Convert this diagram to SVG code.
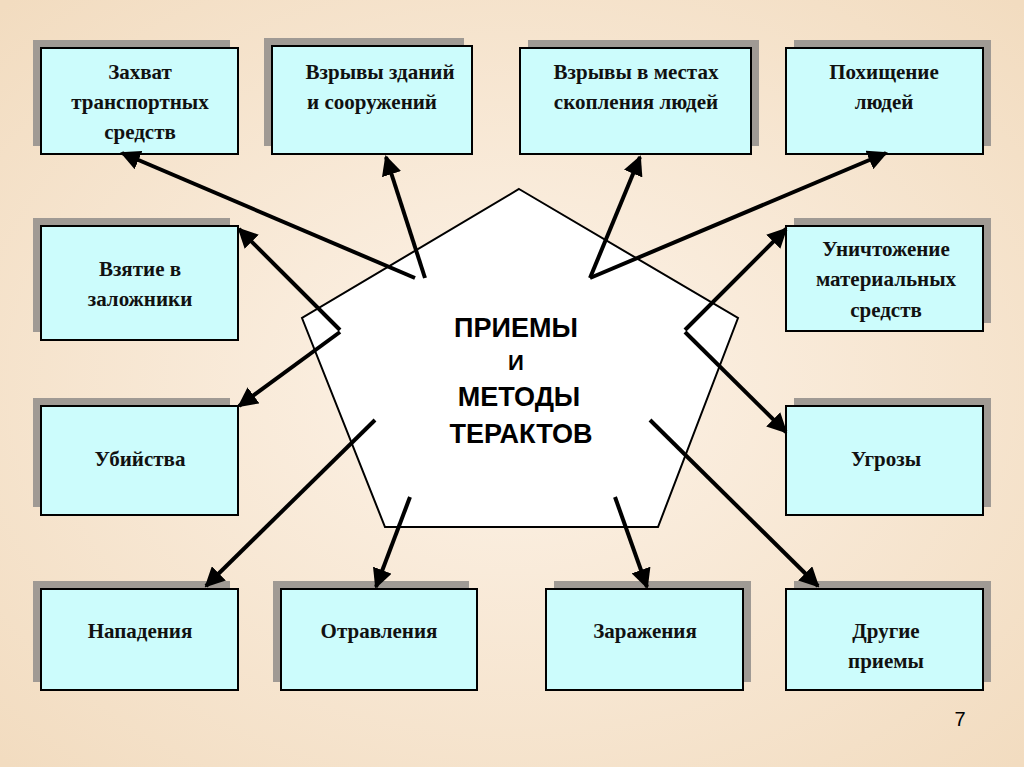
<svg xmlns="http://www.w3.org/2000/svg" width="1024" height="767" viewBox="0 0 1024 767">
<defs>
<radialGradient id="bg" cx="50%" cy="50%" r="70%"><stop offset="0" stop-color="#fdf3e8"/><stop offset="1" stop-color="#f2dcc0"/></radialGradient>
<marker id="ah" viewBox="0 0 10 10" refX="9" refY="5" markerWidth="5" markerHeight="5" orient="auto"><path d="M0,0 L10,5 L0,10 z" fill="#000"/></marker>
<style>
.sh{fill:#a09a94}
.bx{fill:#ccfcfc;stroke:#000;stroke-width:2}
.t{font-family:"Liberation Serif",serif;font-weight:bold;font-size:21px;fill:#111;text-anchor:middle}
.c{stroke:#000;stroke-width:4;fill:none;marker-end:url(#ah)}
</style>
</defs>
<rect width="1024" height="767" fill="url(#bg)"/>
<g id="center"><polygon points="519,189 738,318 658,527 385,527 302,318" fill="#fff" stroke="#000" stroke-width="2"/>
<text x="516" y="337" font-family="Liberation Sans,sans-serif" font-weight="bold" font-size="27" text-anchor="middle">ПРИЕМЫ</text>
<text x="516" y="370" font-family="Liberation Sans,sans-serif" font-weight="bold" font-size="22" text-anchor="middle">И</text>
<text x="519" y="406" font-family="Liberation Sans,sans-serif" font-weight="bold" font-size="27" text-anchor="middle">МЕТОДЫ</text>
<text x="521" y="443" font-family="Liberation Sans,sans-serif" font-weight="bold" font-size="27" text-anchor="middle">ТЕРАКТОВ</text></g>
<g id="n1"><rect class="sh" x="33" y="40" width="197" height="106"/><rect class="bx" x="41" y="48" width="197" height="106"/><text class="t" x="140" y="79">Захват</text><text class="t" x="140" y="109">транспортных</text><text class="t" x="140" y="139">средств</text></g>
<g id="n2"><rect class="sh" x="264" y="38" width="200" height="108"/><rect class="bx" x="272" y="46" width="200" height="108"/><text class="t" x="380" y="79">Взрывы зданий</text><text class="t" x="372" y="109">и сооружений</text></g>
<g id="n3"><rect class="sh" x="528" y="40" width="231" height="106"/><rect class="bx" x="520" y="48" width="231" height="106"/><text class="t" x="636" y="79">Взрывы в местах</text><text class="t" x="636" y="109">скопления людей</text></g>
<g id="n4"><rect class="sh" x="794" y="40" width="197" height="106"/><rect class="bx" x="786" y="48" width="197" height="106"/><text class="t" x="884" y="79">Похищение</text><text class="t" x="884" y="109">людей</text></g>
<g id="n5"><rect class="sh" x="33" y="218" width="197" height="114"/><rect class="bx" x="41" y="226" width="197" height="114"/><text class="t" x="140" y="276">Взятие в</text><text class="t" x="140" y="306">заложники</text></g>
<g id="n6"><rect class="sh" x="794" y="218" width="197" height="105"/><rect class="bx" x="786" y="226" width="197" height="105"/><text class="t" x="886" y="256">Уничтожение</text><text class="t" x="886" y="286">материальных</text><text class="t" x="886" y="317">средств</text></g>
<g id="n7"><rect class="sh" x="33" y="398" width="197" height="109"/><rect class="bx" x="41" y="406" width="197" height="109"/><text class="t" x="140" y="466">Убийства</text></g>
<g id="n8"><rect class="sh" x="794" y="398" width="197" height="109"/><rect class="bx" x="786" y="406" width="197" height="109"/><text class="t" x="886" y="466">Угрозы</text></g>
<g id="n9"><rect class="sh" x="33" y="581" width="197" height="101"/><rect class="bx" x="41" y="589" width="197" height="101"/><text class="t" x="140" y="638">Нападения</text></g>
<g id="n10"><rect class="sh" x="273" y="581" width="196" height="101"/><rect class="bx" x="281" y="589" width="196" height="101"/><text class="t" x="379" y="638">Отравления</text></g>
<g id="n11"><rect class="sh" x="554" y="581" width="197" height="101"/><rect class="bx" x="546" y="589" width="197" height="101"/><text class="t" x="645" y="638">Заражения</text></g>
<g id="n12"><rect class="sh" x="794" y="581" width="197" height="101"/><rect class="bx" x="786" y="589" width="197" height="101"/><text class="t" x="886" y="638">Другие</text><text class="t" x="886" y="668">приемы</text></g>
<g id="connectors">
<line class="c" x1="415" y1="278" x2="122" y2="153"/>
<line class="c" x1="425" y1="278" x2="386" y2="157"/>
<line class="c" x1="590" y1="278" x2="640" y2="157"/>
<line class="c" x1="590" y1="278" x2="886" y2="153"/>
<line class="c" x1="340" y1="330" x2="239" y2="229"/>
<line class="c" x1="340" y1="332" x2="239" y2="406"/>
<line class="c" x1="685" y1="330" x2="786" y2="229"/>
<line class="c" x1="685" y1="332" x2="786" y2="432"/>
<line class="c" x1="375" y1="420" x2="206" y2="586"/>
<line class="c" x1="410" y1="497" x2="376" y2="587"/>
<line class="c" x1="615" y1="497" x2="647" y2="587"/>
<line class="c" x1="650" y1="420" x2="818" y2="586"/>
</g>
<text x="960" y="726" font-family="Liberation Sans,sans-serif" font-size="20" text-anchor="middle">7</text>
</svg>
